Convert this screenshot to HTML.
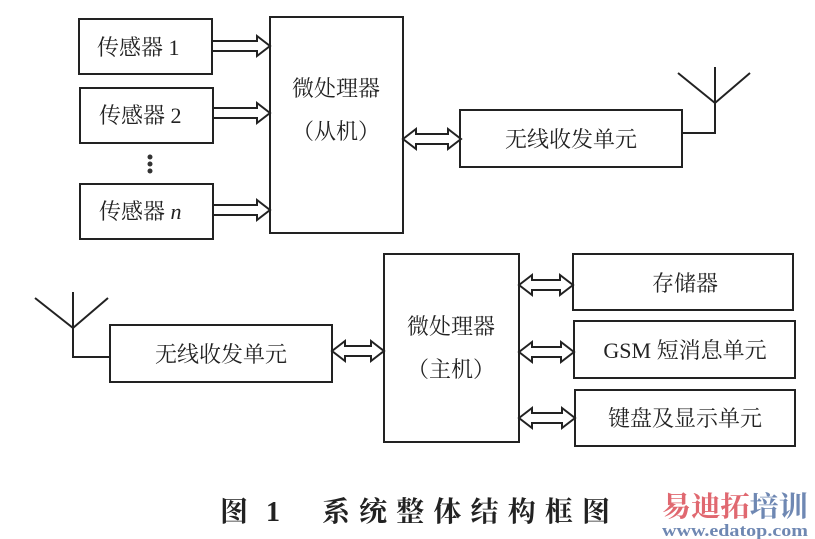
<!DOCTYPE html>
<html><head><meta charset="utf-8"><style>
html,body{margin:0;padding:0;background:#fff;}
svg{display:block;}
text{font-family:"Liberation Serif","Noto Serif CJK SC",serif;fill:#222;}
</style></head><body>
<svg width="815" height="539" viewBox="0 0 815 539" xmlns="http://www.w3.org/2000/svg">
<g fill="none" stroke="#222" stroke-width="2">
<rect x="79" y="19" width="133" height="55"/>
<rect x="80" y="88" width="133" height="55"/>
<rect x="80" y="184" width="133" height="55"/>
<rect x="270" y="17" width="133" height="216"/>
<rect x="460" y="110" width="222" height="57"/>
<polyline points="682,133 715,133 715,67"/>
<polyline points="678,73 715,103 750,73"/>
<rect x="384" y="254" width="135" height="188"/>
<rect x="110" y="325" width="222" height="57"/>
<polyline points="110,357 73,357 73,292"/>
<polyline points="35,298 73,328 108,298"/>
<rect x="573" y="254" width="220" height="56"/>
<rect x="574" y="321" width="221" height="57"/>
<rect x="575" y="390" width="220" height="56"/>
<polygon points="212,41 257,41 257,36 270,46 257,56 257,51 212,51"/>
<polygon points="213,108 257,108 257,103 270,113 257,123 257,118 213,118"/>
<polygon points="213,205 257,205 257,200 270,210 257,220 257,215 213,215"/>
<polygon points="403,139 416,129 416,134 448,134 448,129 461,139 448,149 448,144 416,144 416,149"/>
<polygon points="332,351 345,341 345,346 371,346 371,341 384,351 371,361 371,356 345,356 345,361"/>
<polygon points="519,285 532,275 532,280 560,280 560,275 573,285 560,295 560,290 532,290 532,295"/>
<polygon points="519,352 532,342 532,347 561,347 561,342 574,352 561,362 561,357 532,357 532,362"/>
<polygon points="519,418 532,408 532,413 562,413 562,408 575,418 562,428 562,423 532,423 532,428"/>
</g>
<g fill="#333"><circle cx="150" cy="157" r="2.5"/><circle cx="150" cy="164" r="2.5"/><circle cx="150" cy="171" r="2.5"/></g>
<g font-size="22">
<text x="97" y="55">传感器 1</text>
<text x="99" y="123">传感器 2</text>
<text x="99" y="219">传感器 <tspan font-style="italic">n</tspan></text>
<text x="336" y="96" text-anchor="middle">微处理器</text>
<text x="336" y="139" text-anchor="middle">（从机）</text>
<text x="571" y="147" text-anchor="middle">无线收发单元</text>
<text x="451" y="334" text-anchor="middle">微处理器</text>
<text x="451" y="377" text-anchor="middle">（主机）</text>
<text x="221" y="362" text-anchor="middle">无线收发单元</text>
<text x="685" y="291" text-anchor="middle">存储器</text>
<text x="685" y="358" text-anchor="middle">GSM 短消息单元</text>
<text x="685" y="426" text-anchor="middle">键盘及显示单元</text>
</g>
<text x="220" y="521" font-size="28" font-weight="bold">图</text>
<text x="266" y="521" font-size="28" font-weight="bold">1</text>
<text x="322" y="521" font-size="28" font-weight="bold" textLength="288" lengthAdjust="spacing">系统整体结构框图</text>
<text x="662" y="516" font-size="28" font-weight="bold" font-family="'Noto Sans CJK SC',sans-serif" style="fill:#e06870" textLength="146" lengthAdjust="spacingAndGlyphs">易迪拓<tspan style="fill:#6f88b3">培训</tspan></text>
<text x="662" y="536" font-size="17" font-weight="bold" font-family="'Liberation Sans',sans-serif" style="fill:#6f88b3" textLength="146" lengthAdjust="spacingAndGlyphs">www.edatop.com</text>
</svg>
</body></html>
